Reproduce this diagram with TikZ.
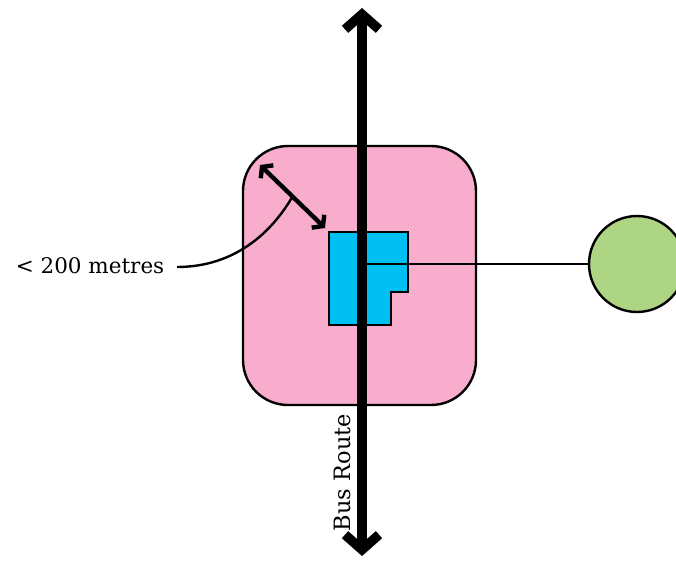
\documentclass[tikz,border=0pt]{standalone}
\usepackage{fontspec}
\setmainfont{DejaVu Serif}
\usetikzlibrary{arrows.meta}
\definecolor{zonepink}{HTML}{F7ADCB}
\definecolor{bldblue}{HTML}{00BFF2}
\definecolor{stopgreen}{HTML}{ADD583}
\tikzset{
  zone/.style={draw=black, line width=2.4pt, fill=zonepink, rounded corners=45pt, minimum width=233pt, minimum height=259pt, inner sep=0pt},
  bld/.style={draw=black, line width=2pt, fill=bldblue},
  stop/.style={draw=black, line width=2.4pt, fill=stopgreen, circle, minimum size=96pt, inner sep=0pt},
  link/.style={draw=black, line width=2pt},
  busroute/.style={draw=black, line width=9.5pt, {Straight Barb[length=15pt,width=34pt]}-{Straight Barb[length=15pt,width=34pt]}},
  dist/.style={draw=black, line width=4.4pt, {Straight Barb[length=7pt,width=18pt]}-{Straight Barb[length=7pt,width=18pt]}},
  leader/.style={draw=black, line width=2.4pt},
  lbl/.style={font=\fontsize{21.5pt}{24pt}\selectfont, inner sep=0pt},
  routelbl/.style={font=\fontsize{22.5pt}{25pt}\selectfont, inner sep=0pt}
}
\begin{document}
\begin{tikzpicture}[x=1pt,y=-1pt]
\useasboundingbox (0,0) rectangle (676,564);
\node[zone] (zone) at (359.5,275.5) {};
\draw[bld] (329,232) coordinate (b1) -- (408,232) -- (408,292) -- (391,292) -- (391,325) -- (329,325) -- cycle;
\node[stop] (stop) at (637,264) {};
\coordinate (junction) at (362,264);
\draw[link] (junction) -- (stop.west);
\coordinate (top) at (362,8);
\coordinate (bot) at (362,556);
\draw[busroute] (bot) -- (top);
\node[routelbl, rotate=90, anchor=base] (bus) at (350.5,472.5) {Bus Route};
\coordinate (d1) at (260,165);
\coordinate (d2) at (325,228);
\draw[dist] (d1) -- (d2);
\coordinate (dmid) at (292.5,196.5);
\node[lbl, anchor=base east] (dlabel) at (164.5,273) {< 200 metres};
\coordinate (lstart) at (177,267);
\draw[leader] (lstart) .. controls (235,267) and (272,232) .. (dmid);
\end{tikzpicture}
\end{document}
